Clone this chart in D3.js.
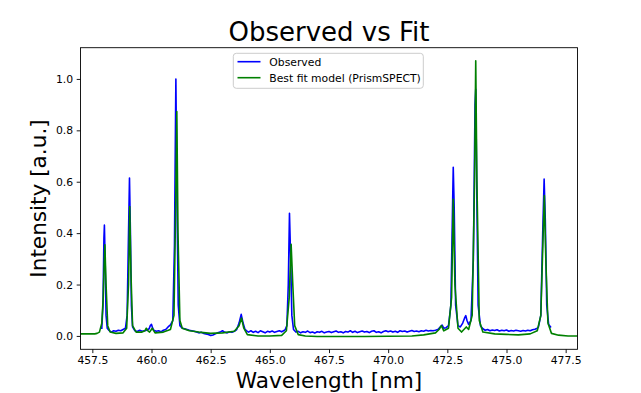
<!DOCTYPE html>
<html>
<head>
<meta charset="utf-8">
<script src="https://cdn.jsdelivr.net/npm/d3@7"></script>
<style>
  html, body { margin: 0; padding: 0; background: #fff; }
  svg { display: block; }
  text { font-family: "DejaVu Sans", sans-serif; }
</style>
</head>
<body>
<svg id="chart" width="641" height="393"></svg>
<script>
// ---- Data ----
const titleText = "Observed vs Fit";
const xLabelText = "Wavelength [nm]";
const yLabelText = "Intensity [a.u.]";
const seriesNames = ["Observed", "Best fit model (PrismSPECT)"];
const seriesColors = ["blue", "green"];
const xTicks = [457.5, 460.0, 462.5, 465.0, 467.5, 470.0, 472.5, 475.0, 477.5];
const yTicks = [0.0, 0.2, 0.4, 0.6, 0.8, 1.0];
const xDomain = [457.0, 478.0];
const yDomain = [-0.052, 1.1215];

const observedWavelength = [
  457.90, 457.95, 457.99, 458.01, 458.04, 458.08, 458.13, 458.20, 458.30, 458.40,
  458.50, 458.60, 458.70, 458.80, 458.90, 458.97, 459.02, 459.07, 459.11, 459.15,
  459.20, 459.30, 459.40, 459.50, 459.60, 459.70, 459.80, 459.90, 459.95, 460.00,
  460.05, 460.10, 460.20, 460.30, 460.40, 460.50, 460.60, 460.70, 460.80, 460.90,
  460.97, 461.03, 461.08, 461.13, 461.20, 461.30, 461.40, 461.50, 461.60, 461.70,
  461.80, 461.90, 462.00, 462.10, 462.20, 462.30, 462.40, 462.50, 462.60, 462.70,
  462.80, 462.90, 463.00, 463.10, 463.20, 463.30, 463.40, 463.50, 463.60, 463.70,
  463.79, 463.87, 463.95, 464.05, 464.10, 464.20, 464.30, 464.40, 464.50, 464.60,
  464.70, 464.80, 464.90, 465.00, 465.10, 465.20, 465.30, 465.40, 465.50, 465.60,
  465.65, 465.72, 465.78, 465.83, 465.88, 465.93, 466.00, 466.10, 466.20, 466.30,
  466.40, 466.50, 466.60, 466.70, 466.80, 466.90, 467.00, 467.10, 467.20, 467.30,
  467.40, 467.50, 467.60, 467.70, 467.80, 467.90, 468.00, 468.10, 468.20, 468.30,
  468.40, 468.50, 468.60, 468.70, 468.80, 468.90, 469.00, 469.10, 469.20, 469.30,
  469.40, 469.50, 469.60, 469.70, 469.80, 469.90, 470.00, 470.10, 470.20, 470.30,
  470.40, 470.50, 470.60, 470.70, 470.80, 470.90, 471.00, 471.10, 471.20, 471.30,
  471.40, 471.50, 471.60, 471.70, 471.80, 471.90, 472.00, 472.10, 472.20, 472.28,
  472.35, 472.45, 472.55, 472.65, 472.72, 472.75, 472.79, 472.85, 472.95, 473.05,
  473.15, 473.23, 473.28, 473.33, 473.40, 473.50, 473.60, 473.67, 473.70, 473.74,
  473.80, 473.90, 474.00, 474.10, 474.20, 474.30, 474.40, 474.50, 474.60, 474.70,
  474.80, 474.90, 475.00, 475.10, 475.20, 475.30, 475.40, 475.50, 475.60, 475.70,
  475.80, 475.90, 476.00, 476.10, 476.20, 476.30, 476.35, 476.45, 476.53, 476.59,
  476.64, 476.70, 476.78, 476.86
];
const observedIntensity = [
  0.030, 0.120, 0.380, 0.431, 0.300, 0.080, 0.030, 0.022, 0.015, 0.020,
  0.018, 0.022, 0.020, 0.025, 0.030, 0.080, 0.350, 0.614, 0.400, 0.120,
  0.035, 0.020, 0.017, 0.022, 0.018, 0.020, 0.022, 0.028, 0.040, 0.045,
  0.030, 0.022, 0.018, 0.020, 0.016, 0.022, 0.025, 0.035, 0.043, 0.060,
  0.350, 1.000, 0.500, 0.120, 0.040, 0.030, 0.028, 0.025, 0.022, 0.020,
  0.018, 0.015, 0.012, 0.014, 0.010, 0.008, 0.006, 0.002, 0.004, 0.008,
  0.012, 0.015, 0.020, 0.014, 0.012, 0.016, 0.014, 0.018, 0.025, 0.050,
  0.084, 0.050, 0.025, 0.018, 0.015, 0.020, 0.014, 0.018, 0.013, 0.020,
  0.016, 0.012, 0.018, 0.015, 0.019, 0.014, 0.017, 0.020, 0.016, 0.021,
  0.025, 0.040, 0.200, 0.477, 0.300, 0.080, 0.025, 0.015, 0.018, 0.012,
  0.016, 0.014, 0.019, 0.013, 0.015, 0.011, 0.016, 0.014, 0.018, 0.012,
  0.015, 0.017, 0.013, 0.016, 0.019, 0.014, 0.016, 0.012, 0.017, 0.015,
  0.020, 0.014, 0.018, 0.013, 0.016, 0.019, 0.015, 0.017, 0.013, 0.018,
  0.020, 0.014, 0.016, 0.012, 0.017, 0.020, 0.016, 0.019, 0.015, 0.018,
  0.014, 0.020, 0.017, 0.019, 0.015, 0.018, 0.021, 0.017, 0.019, 0.016,
  0.020, 0.018, 0.022, 0.019, 0.021, 0.020, 0.022, 0.025, 0.035, 0.042,
  0.030, 0.032, 0.040, 0.120, 0.500, 0.656, 0.500, 0.120, 0.040, 0.035,
  0.050, 0.070, 0.079, 0.060, 0.045, 0.060, 0.300, 0.900, 0.960, 0.600,
  0.120, 0.040, 0.028, 0.022, 0.025, 0.020, 0.023, 0.021, 0.024, 0.019,
  0.022, 0.020, 0.023, 0.018, 0.021, 0.019, 0.022, 0.020, 0.018, 0.021,
  0.019, 0.022, 0.020, 0.024, 0.026, 0.030, 0.035, 0.080, 0.400, 0.610,
  0.450, 0.120, 0.045, 0.035
];

const fitWavelength = [
  457.00, 457.30, 457.60, 457.70, 457.80, 457.90, 457.96, 458.00, 458.03, 458.08,
  458.15, 458.25, 458.50, 458.80, 458.95, 459.03, 459.08, 459.13, 459.20, 459.35,
  459.60, 459.72, 459.78, 459.85, 459.92, 460.03, 460.15, 460.50, 460.80, 460.95,
  461.02, 461.07, 461.12, 461.20, 461.30, 461.60, 462.00, 462.50, 463.00, 463.50,
  463.70, 463.80, 463.90, 464.05, 464.50, 465.00, 465.50, 465.70, 465.82, 465.90,
  465.97, 466.05, 466.20, 466.50, 467.00, 468.00, 469.00, 470.00, 471.00, 471.50,
  472.00, 472.15, 472.25, 472.35, 472.55, 472.68, 472.75, 472.82, 472.95, 473.10,
  473.30, 473.40, 473.55, 473.65, 473.70, 473.75, 473.85, 474.00, 474.50, 475.00,
  475.50, 476.00, 476.30, 476.45, 476.55, 476.60, 476.66, 476.75, 476.90, 477.20,
  477.60, 478.00
];
const fitIntensity = [
  0.008, 0.008, 0.008, 0.010, 0.015, 0.050, 0.150, 0.280, 0.355, 0.200,
  0.040, 0.015, 0.010, 0.012, 0.030, 0.200, 0.503, 0.250, 0.040, 0.015,
  0.015, 0.020, 0.030, 0.020, 0.015, 0.030, 0.012, 0.015, 0.025, 0.080,
  0.500, 0.873, 0.400, 0.060, 0.030, 0.020, 0.015, 0.010, 0.012, 0.018,
  0.040, 0.070, 0.030, 0.005, 0.000, 0.000, 0.002, 0.020, 0.150, 0.357,
  0.200, 0.040, 0.005, 0.000, -0.002, -0.002, -0.002, -0.001, 0.000, 0.004,
  0.012, 0.025, 0.040, 0.020, 0.030, 0.150, 0.532, 0.200, 0.030, 0.015,
  0.035, 0.025, 0.080, 0.600, 1.071, 0.600, 0.060, 0.015, 0.008, 0.006,
  0.004, 0.008, 0.020, 0.080, 0.400, 0.546, 0.300, 0.050, 0.010, 0.003,
  0.000, 0.000
];

// ---- Layout ----
const svg = d3.select("#chart");
svg.append("rect").attr("width", 641).attr("height", 393).attr("fill", "#fff");

const plot = { left: 80.5, right: 577.5, top: 47.7, bottom: 349.3 };
const x = d3.scaleLinear().domain(xDomain).range([plot.left, plot.right]);
const y = d3.scaleLinear().domain(yDomain).range([plot.bottom, plot.top]);

const fmt = d3.format(".1f");
const tickFont = "10.8px";

// clip
svg.append("clipPath").attr("id", "clip")
  .append("rect").attr("x", plot.left).attr("y", plot.top)
  .attr("width", plot.right - plot.left).attr("height", plot.bottom - plot.top);

const line = d3.line().x(d => x(d[0])).y(d => y(d[1]));
const obs = observedWavelength.map((w, i) => [w, observedIntensity[i]]);
const fit = fitWavelength.map((w, i) => [w, fitIntensity[i]]);

const g = svg.append("g").attr("clip-path", "url(#clip)");
g.append("path").datum(obs).attr("d", line)
  .attr("fill", "none").attr("stroke", seriesColors[0]).attr("stroke-width", 1.6)
  .attr("stroke-linejoin", "round").attr("stroke-linecap", "square");
g.append("path").datum(fit).attr("d", line)
  .attr("fill", "none").attr("stroke", seriesColors[1]).attr("stroke-width", 1.6)
  .attr("stroke-linejoin", "round").attr("stroke-linecap", "square");

// axes
const xAxis = d3.axisBottom(x).tickValues(xTicks).tickFormat(fmt).tickSizeOuter(0).tickSizeInner(3.8).tickPadding(3.6);
const yAxis = d3.axisLeft(y).tickValues(yTicks).tickFormat(fmt).tickSizeOuter(0).tickSizeInner(3.8).tickPadding(3.6);

const gx = svg.append("g").attr("transform", `translate(0,${plot.bottom})`).call(xAxis);
const gy = svg.append("g").attr("transform", `translate(${plot.left},0)`).call(yAxis);
[gx, gy].forEach(a => {
  a.select(".domain").remove();
  a.selectAll(".tick line").attr("stroke", "#000").attr("stroke-width", 0.9);
  a.selectAll(".tick text").attr("fill", "#000").style("font-size", tickFont)
    .style("font-family", "'DejaVu Sans', sans-serif");
});

// spines
svg.append("rect")
  .attr("x", plot.left).attr("y", plot.top)
  .attr("width", plot.right - plot.left).attr("height", plot.bottom - plot.top)
  .attr("fill", "none").attr("stroke", "#000").attr("stroke-width", 0.9);

// title & labels
const cx = (plot.left + plot.right) / 2;
svg.append("text").attr("x", cx).attr("y", 40.5).attr("text-anchor", "middle")
  .style("font-size", "26px").text(titleText);
svg.append("text").attr("x", cx).attr("y", 388).attr("text-anchor", "middle")
  .style("font-size", "21.6px").text(xLabelText);
svg.append("text").attr("transform", `translate(46,${(plot.top + plot.bottom) / 2}) rotate(-90)`)
  .attr("text-anchor", "middle").style("font-size", "21.6px").text(yLabelText);

// legend
const lg = svg.append("g");
lg.append("rect").attr("x", 233.3).attr("y", 53.3).attr("width", 190).attr("height", 35)
  .attr("rx", 3).attr("fill", "#fff").attr("fill-opacity", 0.8)
  .attr("stroke", "#cccccc").attr("stroke-width", 1);
const legendY = [61.7, 77.7];
seriesNames.forEach((name, i) => {
  lg.append("line").attr("x1", 237.5).attr("x2", 260.5).attr("y1", legendY[i]).attr("y2", legendY[i])
    .attr("stroke", seriesColors[i]).attr("stroke-width", 1.6);
  lg.append("text").attr("x", 269.3).attr("y", legendY[i] + 3.9)
    .style("font-size", tickFont).attr("fill", "#000").text(name);
});
</script>
</body>
</html>
